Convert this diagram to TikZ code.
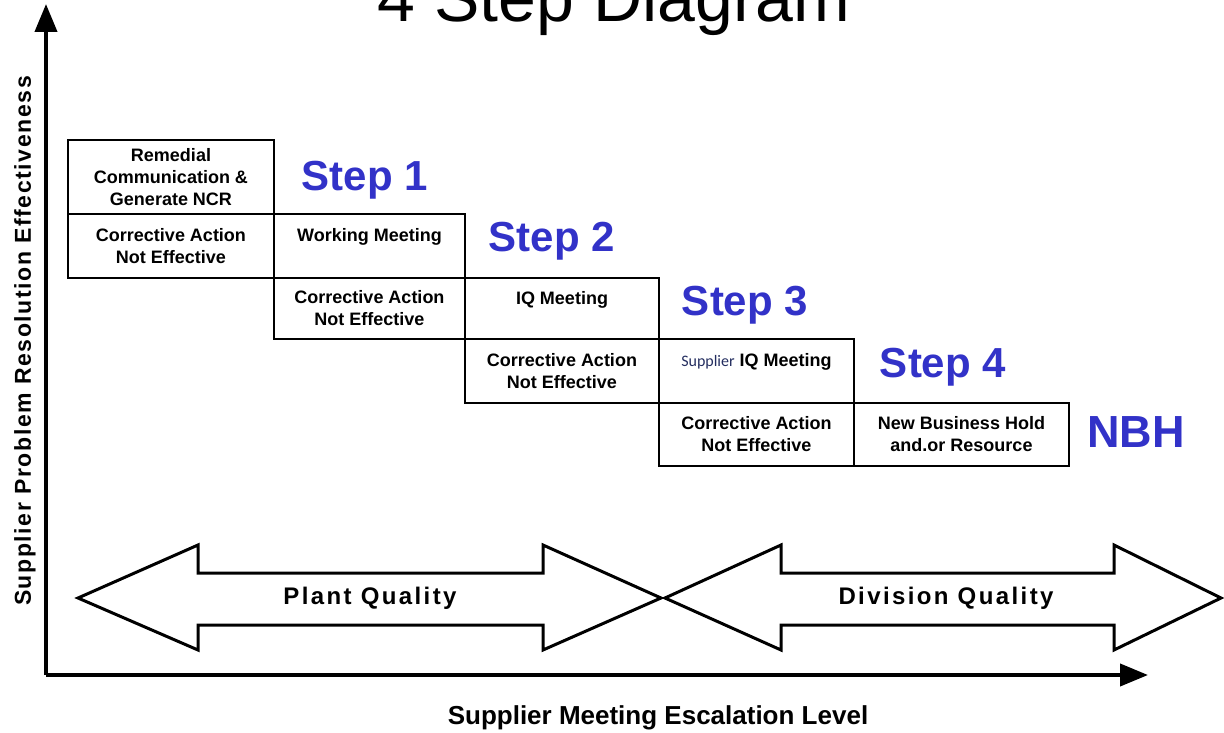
\documentclass[tikz,border=0pt]{standalone}
\usepackage{fontspec}
\setmainfont{Liberation Sans}
\newfontfamily\supplierfont{Carlito}
\usetikzlibrary{arrows.meta}
\definecolor{stepblue}{RGB}{50,50,200}
\definecolor{supplierblue}{RGB}{35,45,95}
\begin{document}
\begin{tikzpicture}[x=1pt,y=-1pt]
            \tikzset{
                stepbox/.style={draw=black,line width=2.5pt,inner sep=0pt,align=center,
                    font=\fontsize{18}{22}\selectfont\bfseries},
                steplabel/.style={anchor=base,text=stepblue,font=\fontsize{42}{42}\selectfont\bfseries},
                axisline/.style={line width=4pt,-{Triangle[length=28pt,width=22pt]}},
                bigarrow/.style={draw=black,line width=3pt,fill=white,line join=miter},
                arrowtext/.style={font=\fontsize{24}{24}\selectfont\bfseries\addfontfeature{LetterSpace=10}}
            }
            \useasboundingbox (0,0) rectangle (1224,733);

            \node[anchor=base,font=\fontsize{68}{68}\selectfont] (title) at (614,22) {4 Step Diagram};

            \coordinate (origin) at (46,675);
            \coordinate (ytop) at (46,4);
            \coordinate (xend) at (1148,675);
            \draw[axisline] (origin) -- (ytop);
            \draw[axisline] (origin) -- (xend);

            \node[rotate=90,font=\fontsize{23}{23}\selectfont\bfseries\addfontfeature{LetterSpace=7}] (ylabel) at (25,341) {Supplier Problem Resolution Effectiveness};
            \node[font=\fontsize{26}{26}\selectfont\bfseries] (xlabel) at (658,718) {Supplier Meeting Escalation Level};

            \node[stepbox,minimum width=206pt,minimum height=74pt] (remedial) at (171,177) {Remedial\\Communication \&\\Generate NCR};
            \node[stepbox,minimum width=206pt,minimum height=64pt] (cane1) at (171,246) {Corrective Action\\Not Effective};
            \node[stepbox,minimum width=191pt,minimum height=64pt] (working) at (369.5,246) {Working Meeting\\\mbox{}};
            \node[stepbox,minimum width=191pt,minimum height=61pt] (cane2) at (369.5,308.5) {Corrective Action\\Not Effective};
            \node[stepbox,minimum width=194pt,minimum height=61pt] (iq) at (562,308.5) {IQ Meeting\\\mbox{}};
            \node[stepbox,minimum width=194pt,minimum height=64pt] (cane3) at (562,371) {Corrective Action\\Not Effective};
            \node[stepbox,minimum width=195pt,minimum height=64pt] (suppiq) at (756.5,371) {{\mdseries\supplierfont\fontsize{16}{22}\selectfont\color{supplierblue}Supplier} IQ Meeting\\\mbox{}};
            \node[stepbox,minimum width=195pt,minimum height=63pt] (cane4) at (756.5,434.5) {Corrective Action\\Not Effective};
            \node[stepbox,minimum width=215pt,minimum height=63pt] (nbhbox) at (961.5,434.5) {New Business Hold\\and.or Resource};

            \node[steplabel] (step1) at (365,190) {Step 1};
            \node[steplabel] (step2) at (552,251) {Step 2};
            \node[steplabel] (step3) at (745,315) {Step 3};
            \node[steplabel] (step4) at (943,377) {Step 4};
            \node[steplabel,font=\fontsize{45}{45}\selectfont\bfseries] (nbh) at (1136,447) {NBH};

            % plant quality and division quality arrows
            \draw[bigarrow] (78,598) -- (198,545) -- (198,573) -- (543,573) -- (543,545) -- (661,598)
                -- (543,650) -- (543,625) -- (198,625) -- (198,650) -- cycle;
            \draw[bigarrow] (665,598) -- (781,545) -- (781,573) -- (1114,573) -- (1114,545) -- (1221,598)
                -- (1114,650) -- (1114,625) -- (781,625) -- (781,650) -- cycle;
            \node[arrowtext] (plant) at (370,598) {Plant Quality};
            \node[arrowtext] (division) at (946,598) {Division Quality};
        \end{tikzpicture}
\end{document}
